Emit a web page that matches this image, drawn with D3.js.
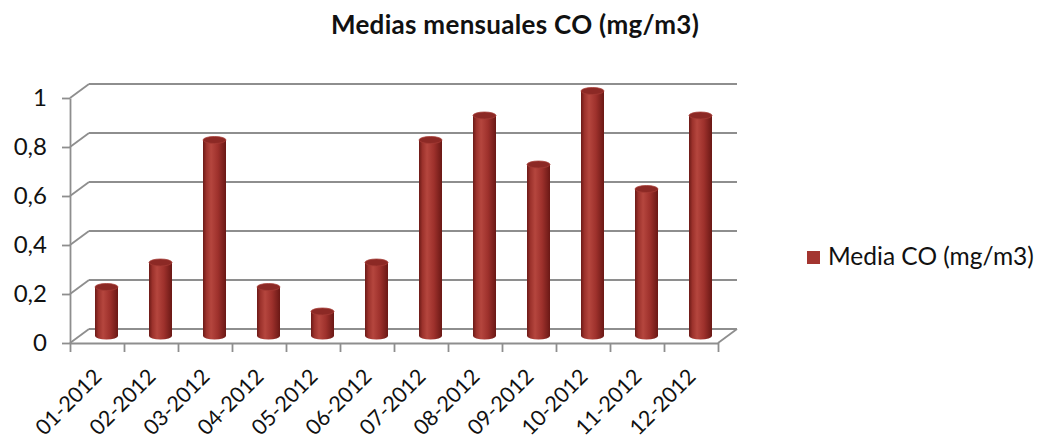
<!DOCTYPE html>
<html>
<head>
<meta charset="utf-8">
<script src="https://cdn.jsdelivr.net/npm/d3@7"></script>
<style>
    body { margin: 0; background: #fff; }
    text { font-family: Lato, "Open Sans", sans-serif; fill: #111; }
</style>
</head>
<body>
<div id="chart"></div>
<script>
const months = ['01-2012', '02-2012', '03-2012', '04-2012', '05-2012', '06-2012',
                '07-2012', '08-2012', '09-2012', '10-2012', '11-2012', '12-2012'];
const coValues = [0.2, 0.3, 0.8, 0.2, 0.1, 0.3, 0.8, 0.9, 0.7, 1.0, 0.6, 0.9];
const yTicks = [0, 0.2, 0.4, 0.6, 0.8, 1];
const seriesName = 'Media CO (mg/m3)';
const chartTitle = 'Medias mensuales CO (mg/m3)';

function draw() {
    const dimensions = {
        width: 1037,
        height: 441,
        left: 70,
        right: 718,
        top: 98,
        bottom: 343,
        depthX: 19,
        depthY: -14
    }

    const gridColor = '#8e8e8e';
    const barColor = '#a33530';

    const locale = d3.formatLocale({ decimal: ',', thousands: '.', grouping: [3], currency: ['', '€'] });
    const fmt = locale.format('~g');

    // Scales
    const yScale = d3.scaleLinear()
        .domain([0, 1])
        .range([dimensions.bottom, dimensions.top])

    const xBand = d3.scaleBand()
        .domain(months)
        .range([dimensions.left, dimensions.right])

    const xIndex = d3.scaleLinear()
        .domain([0, months.length])
        .range([dimensions.left, dimensions.right])

    const svg = d3.select('#chart')
        .append('svg')
        .attr('width', dimensions.width)
        .attr('height', dimensions.height)

    const defs = svg.append('defs');
    const grad = defs.append('linearGradient')
        .attr('id', 'cyl')
        .attr('x1', '0').attr('x2', '1').attr('y1', '0').attr('y2', '0')
    const stops = [[0, '#6c1a17'], [0.15, '#9c322c'], [0.35, '#b5463e'], [0.65, '#9e312c'], [1, '#6a1815']];
    stops.forEach(s => grad.append('stop').attr('offset', s[0]).attr('stop-color', s[1]));

    // Title
    svg.append('text')
        .attr('x', 515)
        .attr('y', 34)
        .attr('text-anchor', 'middle')
        .style('font-weight', 'bold')
        .style('font-size', '26px')
        .style('letter-spacing', '0.3px')
        .text(chartTitle)

    // Walls: back gridlines, left side diagonals, floor
    const walls = svg.append('g')
        .attr('stroke', gridColor)
        .attr('stroke-width', 1.8)
        .attr('fill', 'none')

    walls.selectAll('.grid')
        .data(yTicks)
        .join('line')
        .attr('x1', dimensions.left + dimensions.depthX)
        .attr('x2', dimensions.right + dimensions.depthX)
        .attr('y1', d => yScale(d) + dimensions.depthY)
        .attr('y2', d => yScale(d) + dimensions.depthY)

    walls.selectAll('.side')
        .data(yTicks)
        .join('line')
        .attr('x1', dimensions.left)
        .attr('x2', dimensions.left + dimensions.depthX)
        .attr('y1', d => yScale(d))
        .attr('y2', d => yScale(d) + dimensions.depthY)

    walls.append('line')
        .attr('x1', dimensions.right)
        .attr('x2', dimensions.right + dimensions.depthX)
        .attr('y1', yScale(0))
        .attr('y2', yScale(0) + dimensions.depthY)

    // Y axis
    const yAxis = d3.axisLeft(yScale)
        .tickValues(yTicks)
        .tickSize(8)
        .tickSizeOuter(0)
        .tickPadding(15)
        .tickFormat(fmt)

    const yAxisGroup = svg.append('g')
        .attr('transform', `translate(${dimensions.left}, 0)`)
        .call(yAxis)
    yAxisGroup.selectAll('line, path').attr('stroke', gridColor).attr('stroke-width', 1.8)
    yAxisGroup.selectAll('text')
        .style('font-size', '24px')
        .style('font-family', 'Lato, sans-serif')
        .attr('fill', '#111')

    // X axis (ticks at band boundaries)
    const xAxis = d3.axisBottom(xIndex)
        .tickValues(d3.range(months.length + 1))
        .tickSize(9)
        .tickSizeOuter(0)
        .tickFormat('')

    const xAxisGroup = svg.append('g')
        .attr('transform', `translate(0, ${dimensions.bottom})`)
        .call(xAxis)
    xAxisGroup.selectAll('line, path').attr('stroke', gridColor).attr('stroke-width', 1.8)

    svg.append('g')
        .selectAll('text')
        .data(months)
        .join('text')
        .attr('text-anchor', 'end')
        .style('font-size', '21.5px')
        .attr('transform', d => `translate(${xBand(d) + xBand.bandwidth() / 2 + 6}, 378) rotate(-45)`)
        .text(d => d)

    // Cylinders
    const barW = 23;
    const ry = 3.5;
    const bars = months.map((m, i) => ({ month: m, value: coValues[i] }));

    const cylinders = svg.append('g')
        .selectAll('g')
        .data(bars)
        .join('g')

    const cx = d => xBand(d.month) + xBand.bandwidth() / 2 + dimensions.depthX / 2;
    const topY = d => yScale(d.value) + dimensions.depthY / 2;
    const baseY = yScale(0) + dimensions.depthY / 2;

    cylinders.append('path')
        .attr('fill', 'url(#cyl)')
        .attr('d', d => {
            const l = cx(d) - barW / 2, r = cx(d) + barW / 2;
            return `M${l},${topY(d)} L${l},${baseY} A${barW / 2},${ry} 0 0 0 ${r},${baseY} L${r},${topY(d)} Z`;
        })

    cylinders.append('ellipse')
        .attr('cx', cx)
        .attr('cy', topY)
        .attr('rx', barW / 2)
        .attr('ry', ry)
        .attr('fill', '#8c2925')
        .attr('stroke', '#a53b35')
        .attr('stroke-width', 0.8)

    // Legend
    const legend = svg.append('g')
        .attr('transform', 'translate(807, 251)')
    legend.append('rect')
        .attr('width', 13)
        .attr('height', 13)
        .attr('fill', barColor)
    legend.append('text')
        .attr('x', 21)
        .attr('y', 13.5)
        .style('font-size', '24.5px')
        .text(seriesName)
}

draw()
</script>
</body>
</html>
